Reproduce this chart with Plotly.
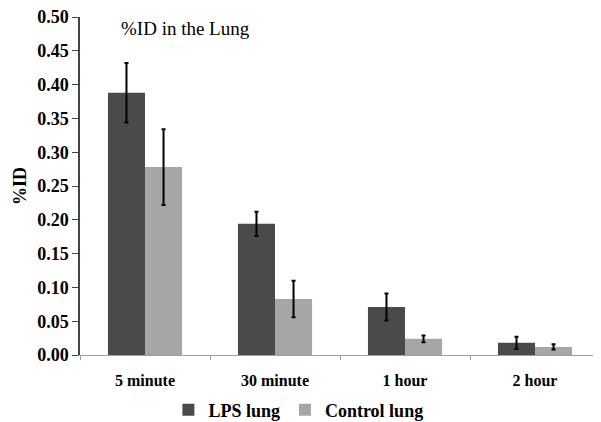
import plotly.graph_objects as go

categories = ["5 minute", "30 minute", "1 hour", "2 hour"]
lps_values = [0.388, 0.194, 0.071, 0.018]
lps_errors = [0.044, 0.018, 0.020, 0.009]
control_values = [0.278, 0.083, 0.024, 0.012]
control_errors = [0.056, 0.027, 0.005, 0.004]
y_ticks = [0.00, 0.05, 0.10, 0.15, 0.20, 0.25, 0.30, 0.35, 0.40, 0.45, 0.50]

SERIF = "Liberation Serif"

fig = go.Figure()
fig.add_trace(go.Bar(
    x=categories, y=lps_values, name="<b>LPS lung</b>",
    marker=dict(color="#4a4a4a", line=dict(width=0)),
    error_y=dict(type="data", array=lps_errors, color="black", thickness=2, width=2),
))
fig.add_trace(go.Bar(
    x=categories, y=control_values, name="<b>Control lung</b>",
    marker=dict(color="#a6a6a6", line=dict(width=0)),
    error_y=dict(type="data", array=control_errors, color="black", thickness=2, width=2),
))

# page body has an 8px default margin, so margins are offset to compensate;
# extra height at the bottom keeps the legend from pushing the plot area up
fig.update_layout(
    width=601, height=450,
    margin=dict(l=72, r=9, t=9, b=103),
    paper_bgcolor="white", plot_bgcolor="white",
    barmode="group", bargap=0.43, bargroupgap=0,
    font=dict(family=SERIF, color="black"),
    showlegend=True,
    legend=dict(orientation="h", x=0.42, xanchor="center", y=-0.163, yanchor="middle",
                font=dict(family=SERIF, size=18, color="black"),
                itemwidth=30, traceorder="normal"),
)
fig.add_annotation(text="%ID in the Lung", x=(185 - 80) / 520, xref="paper", xanchor="center",
                   y=(355 - 28) / 338, yref="paper", yanchor="middle", showarrow=False,
                   font=dict(family=SERIF, size=19, color="black"))

fig.update_xaxes(
    tickvals=categories, ticktext=["<b>%s</b>" % c for c in categories],
    showline=True, linecolor="#a0a0a0", linewidth=1,
    ticks="outside", tickson="boundaries", ticklen=4, tickcolor="#a0a0a0",
    ticklabelstandoff=11,
    tickfont=dict(family=SERIF, size=16, color="black"),
    showgrid=False, automargin=False,
)
fig.update_yaxes(
    range=[0, 0.5], tickvals=y_ticks, ticktext=["<b>%.2f</b>" % v for v in y_ticks],
    showline=True, linecolor="#444", linewidth=1.5,
    ticks="outside", ticklen=6, tickcolor="#444",
    ticklabelstandoff=0, ticklabeloverflow="allow",
    tickfont=dict(family=SERIF, size=18, color="black"),
    showgrid=False, zeroline=False, automargin=False,
    title=dict(text="<b>%ID</b>", font=dict(family=SERIF, size=18, color="black"), standoff=6),
)

fig.write_html("out.html")
